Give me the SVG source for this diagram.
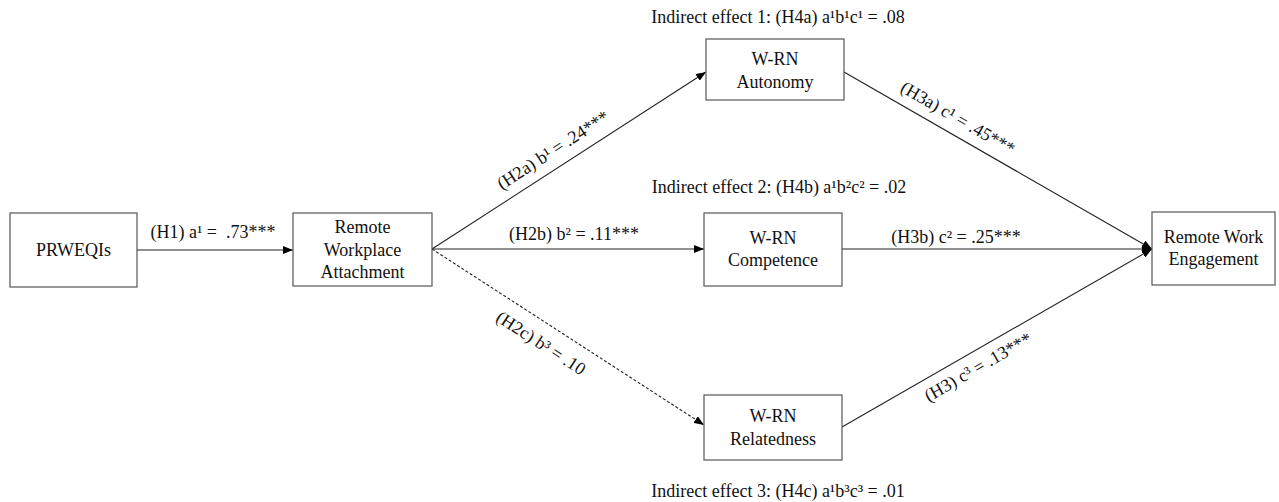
<svg xmlns="http://www.w3.org/2000/svg" width="1279" height="502" viewBox="0 0 1279 502">
<defs>
<marker id="arr" markerWidth="10" markerHeight="8" refX="10" refY="4" orient="auto" markerUnits="userSpaceOnUse">
<path d="M0,0 L10,4 L0,8 z" fill="#000"/>
</marker>
<style>
.box{fill:#fff;stroke:#555;stroke-width:1.2}
.t{font-family:"Liberation Serif","Times New Roman",serif;font-size:18px;fill:#111;text-anchor:middle}
.ln{stroke:#222;stroke-width:1.1;fill:none}
.dash{stroke-dasharray:3,2}
</style>
</defs>
<rect width="1279" height="502" fill="#fff"/>
<g id="connectors">
<line class="ln" x1="137" y1="250" x2="293" y2="250" marker-end="url(#arr)"/>
<line class="ln" x1="432" y1="249" x2="706" y2="72" marker-end="url(#arr)"/>
<line class="ln" x1="432" y1="249" x2="704" y2="249" marker-end="url(#arr)"/>
<line class="ln dash" x1="432" y1="249" x2="704" y2="425" marker-end="url(#arr)"/>
<line class="ln" x1="844" y1="72" x2="1152" y2="249" marker-end="url(#arr)"/>
<line class="ln" x1="842" y1="249" x2="1152" y2="249" marker-end="url(#arr)"/>
<line class="ln" x1="842" y1="427" x2="1152" y2="249" marker-end="url(#arr)"/>
<text class="t" x="213" y="238">(H1) a¹ =&#160; .73***</text>
<text class="t" transform="translate(553,150) rotate(-32.9)" x="0" y="6">(H2a) b¹ = .24***</text>
<text class="t" x="574" y="240">(H2b) b² = .11***</text>
<text class="t" transform="translate(541,343) rotate(32.9)" x="0" y="6">(H2c) b³ = .10</text>
<text class="t" transform="translate(958,118) rotate(30)" x="0" y="6">(H3a) c¹ = .45***</text>
<text class="t" x="956" y="243">(H3b) c² = .25***</text>
<text class="t" transform="translate(978,367) rotate(-29.9)" x="0" y="6">(H3) c³ = .13***</text>
</g>
<g id="node-prweqis">
<rect class="box" x="10" y="213" width="127" height="74"/>
<text class="t" x="73.5" y="256">PRWEQIs</text>
</g>
<g id="node-attachment">
<rect class="box" x="293" y="213" width="139" height="73"/>
<text class="t" x="362.5" y="233">Remote</text>
<text class="t" x="362.5" y="256">Workplace</text>
<text class="t" x="362.5" y="278">Attachment</text>
</g>
<g id="node-autonomy">
<rect class="box" x="706" y="39" width="138" height="61"/>
<text class="t" x="775" y="65">W-RN</text>
<text class="t" x="775" y="88">Autonomy</text>
</g>
<g id="node-competence">
<rect class="box" x="704" y="213" width="138" height="73"/>
<text class="t" x="773" y="244">W-RN</text>
<text class="t" x="773" y="266">Competence</text>
</g>
<g id="node-relatedness">
<rect class="box" x="704" y="395" width="138" height="65"/>
<text class="t" x="773" y="422">W-RN</text>
<text class="t" x="773" y="445">Relatedness</text>
</g>
<g id="node-engagement">
<rect class="box" x="1152" y="212" width="123" height="73"/>
<text class="t" x="1213.5" y="243">Remote Work</text>
<text class="t" x="1213.5" y="265">Engagement</text>
</g>
<g id="indirect-effects">
<text class="t" x="778" y="23">Indirect effect 1: (H4a) a¹b¹c¹ = .08</text>
<text class="t" x="779" y="193">Indirect effect 2: (H4b) a¹b²c² = .02</text>
<text class="t" x="778" y="497">Indirect effect 3: (H4c) a¹b³c³ = .01</text>
</g>
</svg>
